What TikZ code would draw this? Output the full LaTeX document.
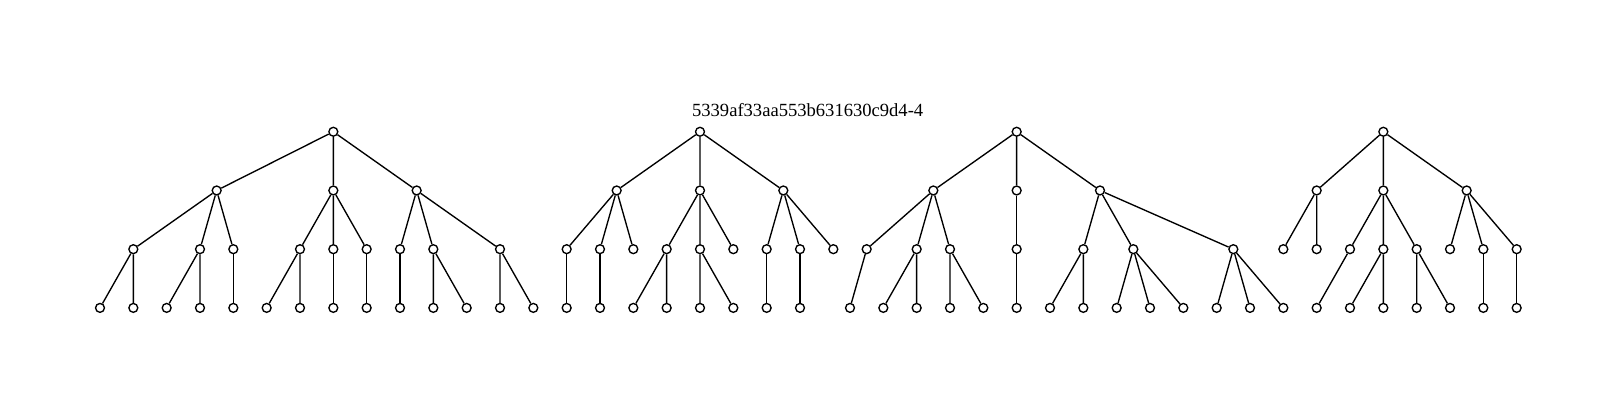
\documentclass[tikz,border=0pt]{standalone}
\usepackage{fontspec}
\setmainfont{Liberation Serif}
\tikzset{vertex/.style={circle, draw, fill=white, inner sep=0pt, minimum size=4.6pt}}

\begin{document}
\begin{tikzpicture}[x=17.225pt, y=30.34pt, line width=0.7pt]
    \useasboundingbox (-3.0,2.244) rectangle (45.48,-4.724);
    \node[font=\fontsize{9.6}{11}\selectfont] (title) at (21.23,0.375) {5339af33aa553b631630c9d4-4};

    % first tree
    \node[vertex] (r1) at (7,0) {};
    \node[vertex] (t1a) at (3.5,-1) {};
    \node[vertex] (t1b) at (7,-1) {};
    \node[vertex] (t1c) at (9.5,-1) {};
    \node[vertex] (t1a1) at (1,-2) {};
    \node[vertex] (t1a2) at (3,-2) {};
    \node[vertex] (t1a3) at (4,-2) {};
    \node[vertex] (t1b1) at (6,-2) {};
    \node[vertex] (t1b2) at (7,-2) {};
    \node[vertex] (t1b3) at (8,-2) {};
    \node[vertex] (t1c1) at (9,-2) {};
    \node[vertex] (t1c2) at (10,-2) {};
    \node[vertex] (t1c3) at (12,-2) {};
    \node[vertex] (t1l0) at (0,-3) {};
    \node[vertex] (t1l1) at (1,-3) {};
    \node[vertex] (t1l2) at (2,-3) {};
    \node[vertex] (t1l3) at (3,-3) {};
    \node[vertex] (t1l4) at (4,-3) {};
    \node[vertex] (t1l5) at (5,-3) {};
    \node[vertex] (t1l6) at (6,-3) {};
    \node[vertex] (t1l7) at (7,-3) {};
    \node[vertex] (t1l8) at (8,-3) {};
    \node[vertex] (t1l9) at (9,-3) {};
    \node[vertex] (t1l10) at (10,-3) {};
    \node[vertex] (t1l11) at (11,-3) {};
    \node[vertex] (t1l12) at (12,-3) {};
    \node[vertex] (t1l13) at (13,-3) {};

    \draw (r1) -- (t1a) (r1) -- (t1b) (r1) -- (t1c);
    \draw (t1a) -- (t1a1) (t1a) -- (t1a2) (t1a) -- (t1a3);
    \draw (t1b) -- (t1b1) (t1b) -- (t1b2) (t1b) -- (t1b3);
    \draw (t1c) -- (t1c1) (t1c) -- (t1c2) (t1c) -- (t1c3);
    \draw (t1a1) -- (t1l0) (t1a1) -- (t1l1);
    \draw (t1a2) -- (t1l2) (t1a2) -- (t1l3);
    \draw (t1a3) -- (t1l4);
    \draw (t1b1) -- (t1l5) (t1b1) -- (t1l6);
    \draw (t1b2) -- (t1l7);
    \draw (t1b3) -- (t1l8);
    \draw (t1c1) -- (t1l9);
    \draw (t1c2) -- (t1l10) (t1c2) -- (t1l11);
    \draw (t1c3) -- (t1l12) (t1c3) -- (t1l13);

    % second tree
    \node[vertex] (r2) at (18,0) {};
    \node[vertex] (t2a) at (15.5,-1) {};
    \node[vertex] (t2b) at (18,-1) {};
    \node[vertex] (t2c) at (20.5,-1) {};
    \node[vertex] (t2a1) at (14,-2) {};
    \node[vertex] (t2a2) at (15,-2) {};
    \node[vertex] (t2a3) at (16,-2) {};
    \node[vertex] (t2b1) at (17,-2) {};
    \node[vertex] (t2b2) at (18,-2) {};
    \node[vertex] (t2b3) at (19,-2) {};
    \node[vertex] (t2c1) at (20,-2) {};
    \node[vertex] (t2c2) at (21,-2) {};
    \node[vertex] (t2c3) at (22,-2) {};
    \node[vertex] (t2l0) at (14,-3) {};
    \node[vertex] (t2l1) at (15,-3) {};
    \node[vertex] (t2l2) at (16,-3) {};
    \node[vertex] (t2l3) at (17,-3) {};
    \node[vertex] (t2l4) at (18,-3) {};
    \node[vertex] (t2l5) at (19,-3) {};
    \node[vertex] (t2l6) at (20,-3) {};
    \node[vertex] (t2l7) at (21,-3) {};

    \draw (r2) -- (t2a) (r2) -- (t2b) (r2) -- (t2c);
    \draw (t2a) -- (t2a1) (t2a) -- (t2a2) (t2a) -- (t2a3);
    \draw (t2b) -- (t2b1) (t2b) -- (t2b2) (t2b) -- (t2b3);
    \draw (t2c) -- (t2c1) (t2c) -- (t2c2) (t2c) -- (t2c3);
    \draw (t2a1) -- (t2l0);
    \draw (t2a2) -- (t2l1);
    \draw (t2b1) -- (t2l2) (t2b1) -- (t2l3);
    \draw (t2b2) -- (t2l4) (t2b2) -- (t2l5);
    \draw (t2c1) -- (t2l6);
    \draw (t2c2) -- (t2l7);

    % third tree
    \node[vertex] (r3) at (27.5,0) {};
    \node[vertex] (t3a) at (25,-1) {};
    \node[vertex] (t3b) at (27.5,-1) {};
    \node[vertex] (t3c) at (30,-1) {};
    \node[vertex] (t3a1) at (23,-2) {};
    \node[vertex] (t3a2) at (24.5,-2) {};
    \node[vertex] (t3a3) at (25.5,-2) {};
    \node[vertex] (t3b1) at (27.5,-2) {};
    \node[vertex] (t3c1) at (29.5,-2) {};
    \node[vertex] (t3c2) at (31,-2) {};
    \node[vertex] (t3c3) at (34,-2) {};
    \node[vertex] (t3l0) at (22.5,-3) {};
    \node[vertex] (t3l1) at (23.5,-3) {};
    \node[vertex] (t3l2) at (24.5,-3) {};
    \node[vertex] (t3l3) at (25.5,-3) {};
    \node[vertex] (t3l4) at (26.5,-3) {};
    \node[vertex] (t3l5) at (27.5,-3) {};
    \node[vertex] (t3l6) at (28.5,-3) {};
    \node[vertex] (t3l7) at (29.5,-3) {};
    \node[vertex] (t3l8) at (30.5,-3) {};
    \node[vertex] (t3l9) at (31.5,-3) {};
    \node[vertex] (t3l10) at (32.5,-3) {};
    \node[vertex] (t3l11) at (33.5,-3) {};
    \node[vertex] (t3l12) at (34.5,-3) {};
    \node[vertex] (t3l13) at (35.5,-3) {};

    \draw (r3) -- (t3a) (r3) -- (t3b) (r3) -- (t3c);
    \draw (t3a) -- (t3a1) (t3a) -- (t3a2) (t3a) -- (t3a3);
    \draw (t3b) -- (t3b1);
    \draw (t3c) -- (t3c1) (t3c) -- (t3c2) (t3c) -- (t3c3);
    \draw (t3a1) -- (t3l0);
    \draw (t3a2) -- (t3l1) (t3a2) -- (t3l2);
    \draw (t3a3) -- (t3l3) (t3a3) -- (t3l4);
    \draw (t3b1) -- (t3l5);
    \draw (t3c1) -- (t3l6) (t3c1) -- (t3l7);
    \draw (t3c2) -- (t3l8) (t3c2) -- (t3l9) (t3c2) -- (t3l10);
    \draw (t3c3) -- (t3l11) (t3c3) -- (t3l12) (t3c3) -- (t3l13);

    % fourth tree
    \node[vertex] (r4) at (38.5,0) {};
    \node[vertex] (t4a) at (36.5,-1) {};
    \node[vertex] (t4b) at (38.5,-1) {};
    \node[vertex] (t4c) at (41,-1) {};
    \node[vertex] (t4a1) at (35.5,-2) {};
    \node[vertex] (t4a2) at (36.5,-2) {};
    \node[vertex] (t4b1) at (37.5,-2) {};
    \node[vertex] (t4b2) at (38.5,-2) {};
    \node[vertex] (t4b3) at (39.5,-2) {};
    \node[vertex] (t4c1) at (40.5,-2) {};
    \node[vertex] (t4c2) at (41.5,-2) {};
    \node[vertex] (t4c3) at (42.5,-2) {};
    \node[vertex] (t4l0) at (36.5,-3) {};
    \node[vertex] (t4l1) at (37.5,-3) {};
    \node[vertex] (t4l2) at (38.5,-3) {};
    \node[vertex] (t4l3) at (39.5,-3) {};
    \node[vertex] (t4l4) at (40.5,-3) {};
    \node[vertex] (t4l5) at (41.5,-3) {};
    \node[vertex] (t4l6) at (42.5,-3) {};

    \draw (r4) -- (t4a) (r4) -- (t4b) (r4) -- (t4c);
    \draw (t4a) -- (t4a1) (t4a) -- (t4a2);
    \draw (t4b) -- (t4b1) (t4b) -- (t4b2) (t4b) -- (t4b3);
    \draw (t4c) -- (t4c1) (t4c) -- (t4c2) (t4c) -- (t4c3);
    \draw (t4b1) -- (t4l0);
    \draw (t4b2) -- (t4l1) (t4b2) -- (t4l2);
    \draw (t4b3) -- (t4l3) (t4b3) -- (t4l4);
    \draw (t4c2) -- (t4l5);
    \draw (t4c3) -- (t4l6);
\end{tikzpicture}
\end{document}
